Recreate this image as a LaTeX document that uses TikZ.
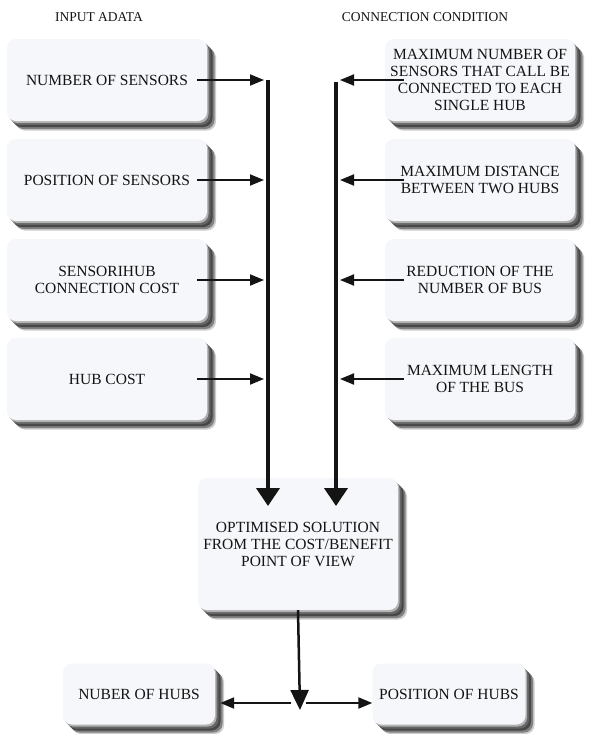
\documentclass[tikz,border=0pt]{standalone}
\usepackage{fontspec}
\setmainfont{Liberation Serif}
\usetikzlibrary{arrows.meta,shadows}

\definecolor{facecol}{RGB}{245,247,250}
\definecolor{inkcol}{RGB}{20,20,20}

\tikzset{
  boxnode/.style={rectangle, rounded corners=9pt, fill=facecol, text=inkcol,
    align=center, inner sep=2pt, font=\rmfamily\fontsize{15.5}{17}\selectfont,
    drop shadow={shadow xshift=9pt, shadow yshift=-9.5pt, fill=black!20, opacity=1},
    drop shadow={shadow xshift=7.5pt, shadow yshift=-8pt, fill=black!50, opacity=1},
    drop shadow={shadow xshift=5.5pt, shadow yshift=-6pt, fill=black!72, opacity=1},
    drop shadow={shadow xshift=3.5pt, shadow yshift=-4pt, fill=black!60, opacity=1},
    drop shadow={shadow xshift=1.5pt, shadow yshift=-2pt, fill=black!30, opacity=1}},
  sidebox/.style={boxnode, minimum width=200pt, minimum height=82pt},
  condbox/.style={boxnode, minimum width=190pt, minimum height=82pt},
  headnode/.style={text=inkcol, font=\rmfamily\fontsize{13.5}{16}\selectfont},
  feedarrow/.style={draw=inkcol, line width=2pt, -{Triangle[length=14pt,width=11pt]}},
  busarrow/.style={draw=inkcol, line width=4pt, -{Triangle[length=18pt,width=23pt]}},
  outarrow/.style={draw=inkcol, line width=2.5pt, -{Triangle[length=20pt,width=18pt]}}
}

\begin{document}
\begin{tikzpicture}[x=1pt,y=-1pt]
  \fill[white] (0,0) rectangle (589,734);
  \useasboundingbox (0,0) rectangle (589,734);

  % headings
  \node[headnode] (inhead) at (99,17) {INPUT ADATA};
  \node[headnode] (condhead) at (425,17) {CONNECTION CONDITION};

  % input data
  \node[sidebox] (nsens) at (107,80) {NUMBER OF SENSORS};
  \node[sidebox] (psens) at (107,180) {POSITION OF SENSORS};
  \node[sidebox] (ccost) at (107,280) {SENSORIHUB\\CONNECTION COST};
  \node[sidebox] (hcost) at (107,379) {HUB COST};

  % connection conditions
  \node[condbox] (maxsens) at (480,80) {MAXIMUM NUMBER OF\\SENSORS THAT CALL BE\\CONNECTED TO EACH\\SINGLE HUB};
  \node[condbox] (maxdist) at (480,180) {MAXIMUM DISTANCE\\BETWEEN TWO HUBS};
  \node[condbox] (redbus) at (480,280) {REDUCTION OF THE\\NUMBER OF BUS};
  \node[condbox] (maxlen) at (480,379) {MAXIMUM LENGTH\\OF THE BUS};

  % result
  \node[boxnode, minimum width=200pt, minimum height=132pt] (optsol) at (298,544)
    {OPTIMISED SOLUTION\\FROM THE COST/BENEFIT\\POINT OF VIEW};
  \node[boxnode, minimum width=152pt, minimum height=61pt] (nhubs) at (139,694) {NUBER OF HUBS};
  \node[boxnode, minimum width=153pt, minimum height=61pt] (phubs) at (449,694) {POSITION OF HUBS};

  % collecting lines
  \coordinate (ltop) at (268,80);
  \coordinate (lbot) at (268,506);
  \coordinate (rtop) at (336,82);
  \coordinate (rbot) at (336,506);
  \draw[busarrow] (ltop) -- (lbot);
  \draw[busarrow] (rtop) -- (rbot);

  \foreach \src in {nsens,psens,ccost,hcost}
    \draw[feedarrow, shorten >=4pt] ([xshift=-10pt]\src.east) -- (\src.east -| ltop);
  \foreach \src in {maxsens,maxdist,redbus,maxlen}
    \draw[feedarrow, shorten >=4pt] ([xshift=19pt]\src.west) -- (\src.west -| rtop);

  % outputs
  \coordinate (split) at (300,703);
  \draw[outarrow] (optsol.south) -- ([yshift=-7pt]split);
  \draw[feedarrow] ([xshift=-9pt]split) -- ([xshift=5pt]nhubs.east |- split);
  \draw[feedarrow] ([xshift=6pt]split) -- (phubs.west |- split);
\end{tikzpicture}
\end{document}
